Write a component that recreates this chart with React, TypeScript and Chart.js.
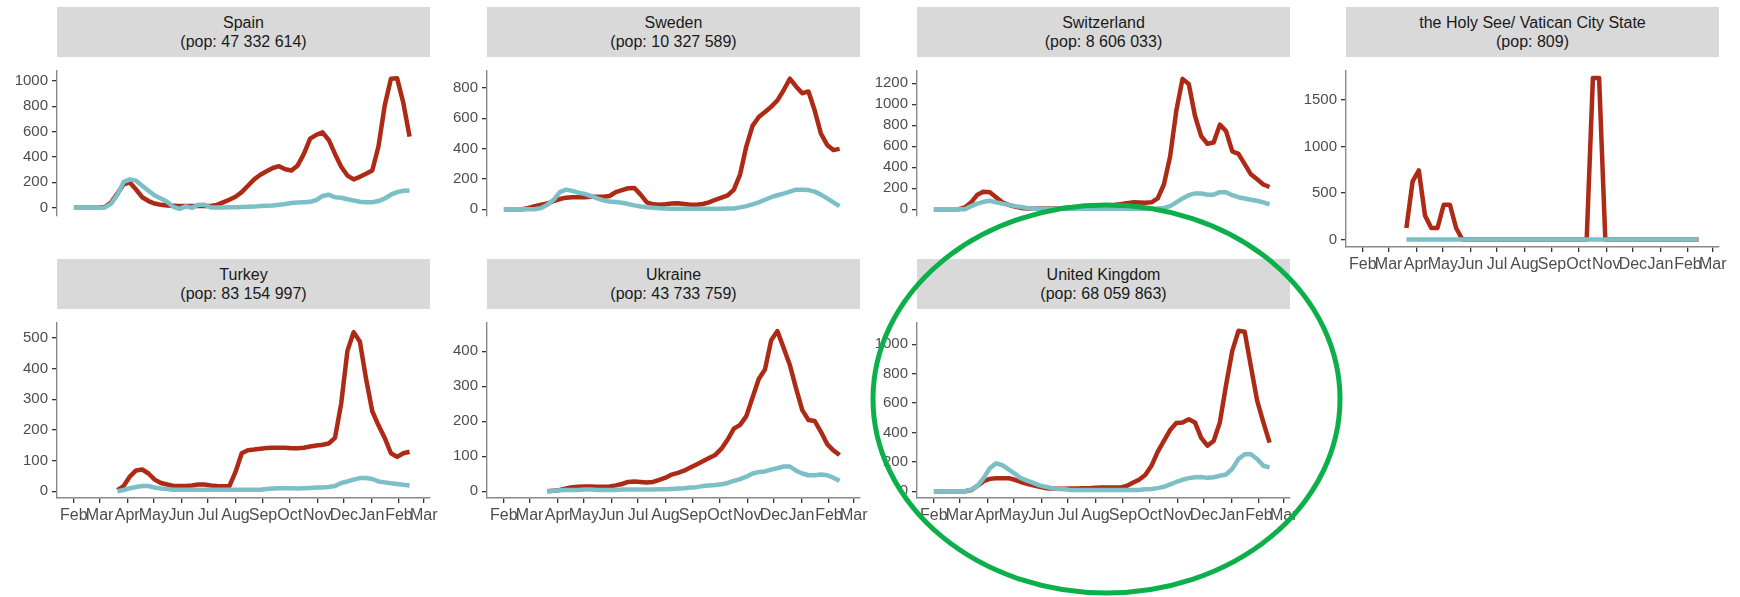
import React, { useEffect, useRef } from 'react';
import { Chart, registerables } from 'chart.js';

Chart.register(...registerables);

// ---------- data ----------
// x positions: days since 2020-01-01 (weekly observations)
const WEEK_DAYS = [31, 38, 45, 52, 59, 66, 73, 80, 87, 94, 101, 108, 115, 122, 129, 136, 143, 150, 157, 164, 171, 178, 185, 192, 199, 206, 213, 220, 227, 234, 241, 248, 255, 262, 269, 276, 283, 290, 297, 304, 311, 318, 325, 332, 339, 346, 353, 360, 367, 374, 381, 388, 395, 402, 409];

const MONTH_TICKS = [31, 60, 91, 121, 152, 182, 213, 244, 274, 305, 335, 366, 397, 425];
const MONTH_LABELS = ['Feb', 'Mar', 'Apr', 'May', 'Jun', 'Jul', 'Aug', 'Sep', 'Oct', 'Nov', 'Dec', 'Jan', 'Feb', 'Mar'];

const SPAIN_RED = [0, 0, 0, 0, 0, 5, 42, 112, 183, 199, 143, 82, 52, 32, 22, 16, 14, 13, 12, 12, 12, 12, 13, 22, 42, 62, 86, 122, 173, 223, 259, 287, 313, 327, 303, 293, 333, 424, 544, 574, 594, 534, 424, 323, 253, 223, 243, 267, 293, 484, 805, 1016, 1020, 825, 560];
const SPAIN_TEAL = [0, 0, 0, 0, 0, 2, 32, 102, 203, 223, 213, 173, 133, 96, 72, 46, 6, -10, 10, -2, 22, 22, 2, 2, 2, 3, 4, 5, 6, 8, 12, 14, 17, 22, 28, 36, 40, 43, 46, 60, 92, 102, 82, 78, 66, 56, 46, 42, 42, 52, 72, 102, 122, 133, 135];

const SWEDEN_RED = [0, 0, 0, 0, 8, 20, 29, 37, 54, 67, 76, 79, 79, 79, 82, 82, 82, 87, 113, 126, 138, 140, 96, 45, 32, 29, 32, 37, 39, 34, 29, 29, 34, 45, 62, 76, 91, 129, 230, 415, 550, 608, 642, 676, 718, 785, 861, 810, 765, 777, 651, 499, 424, 390, 398];
const SWEDEN_TEAL = [0, 0, 0, 0, 0, 0, 8, 29, 62, 113, 129, 121, 109, 101, 87, 71, 59, 50, 47, 42, 34, 25, 18, 13, 10, 6, 4, 3, 3, 3, 3, 3, 3, 3, 3, 3, 4, 5, 12, 20, 32, 45, 62, 79, 92, 103, 116, 129, 129, 126, 116, 96, 71, 45, 20];

const SWISS_RED = [0, 0, 0, 0, 0, 17, 65, 138, 167, 162, 114, 65, 41, 24, 12, 7, 5, 7, 7, 7, 7, 12, 17, 19, 22, 24, 27, 29, 36, 41, 48, 56, 65, 63, 61, 65, 102, 235, 502, 938, 1241, 1193, 890, 696, 623, 635, 805, 744, 550, 526, 429, 332, 284, 235, 211];
const SWISS_TEAL = [0, 0, 0, 0, 0, 0, 29, 53, 70, 80, 65, 53, 41, 29, 22, 12, 5, 5, 5, 5, 5, 5, 5, 5, 5, 5, 5, 5, 5, 5, 5, 5, 5, 5, 5, 5, 7, 12, 29, 65, 102, 133, 150, 150, 138, 138, 162, 162, 133, 114, 102, 90, 80, 65, 46];

const HOLY_RED = [null, null, null, null, null, null, null, 124, 625, 742, 257, 124, 124, 374, 374, 124, 0, 0, 0, 0, 0, 0, 0, 0, 0, 0, 0, 0, 0, 0, 0, 0, 0, 0, 0, 0, 0, 1734, 1734, 0, 0, 0, 0, 0, 0, 0, 0, 0, 0, 0, 0, 0, 0, 0, 0];
const HOLY_TEAL = [null, null, null, null, null, null, null, 0, 0, 0, 0, 0, 0, 0, 0, 0, 0, 0, 0, 0, 0, 0, 0, 0, 0, 0, 0, 0, 0, 0, 0, 0, 0, 0, 0, 0, 0, 0, 0, 0, 0, 0, 0, 0, 0, 0, 0, 0, 0, 0, 0, 0, 0, 0, 0];

const TURKEY_RED = [null, null, null, null, null, null, null, 4, 17, 48, 68, 71, 58, 38, 27, 22, 17, 17, 17, 19, 22, 22, 19, 17, 16, 16, 63, 124, 134, 136, 139, 141, 142, 142, 142, 140, 140, 142, 146, 149, 152, 156, 174, 286, 458, 519, 489, 367, 261, 215, 174, 124, 112, 124, 129];
const TURKEY_TEAL = [null, null, null, null, null, null, null, 0, 4, 10, 14, 17, 17, 12, 9, 7, 5, 5, 5, 5, 5, 5, 5, 5, 5, 5, 5, 5, 5, 5, 5, 7, 9, 10, 10, 10, 9, 10, 11, 12, 12, 14, 17, 27, 32, 38, 43, 43, 40, 32, 29, 26, 24, 21, 19];

const UKRAINE_RED = [null, null, null, null, null, null, null, 0, 2, 4, 8, 12, 13, 14, 14, 13, 13, 14, 17, 21, 27, 28, 27, 25, 27, 33, 39, 48, 53, 59, 68, 77, 86, 95, 104, 122, 148, 179, 190, 215, 268, 321, 348, 432, 458, 410, 361, 294, 232, 204, 201, 170, 135, 117, 104];
const UKRAINE_TEAL = [null, null, null, null, null, null, null, 0, 2, 3, 4, 4, 4, 5, 5, 4, 4, 4, 4, 5, 5, 5, 5, 5, 5, 6, 6, 7, 8, 9, 11, 12, 15, 17, 18, 20, 24, 30, 35, 42, 51, 55, 57, 62, 66, 71, 71, 59, 51, 46, 46, 48, 46, 39, 30];

const UK_RED = [0, 0, 0, 0, 0, 0, 8, 36, 68, 84, 89, 89, 89, 78, 63, 51, 40, 30, 21, 19, 17, 17, 19, 19, 21, 21, 23, 25, 25, 25, 25, 36, 57, 78, 110, 173, 268, 342, 416, 464, 468, 490, 468, 363, 310, 342, 468, 722, 954, 1091, 1084, 848, 616, 468, 331];
const UK_TEAL = [0, 0, 0, 0, 0, 0, 11, 36, 89, 156, 190, 177, 148, 120, 89, 72, 57, 40, 30, 21, 15, 13, 8, 8, 8, 8, 8, 8, 8, 8, 8, 8, 8, 8, 13, 15, 21, 30, 46, 63, 78, 89, 95, 97, 91, 95, 105, 114, 152, 219, 251, 251, 219, 173, 162];

const TITLES = ['Spain', 'Sweden', 'Switzerland', 'the Holy See/ Vatican City State', 'Turkey', 'Ukraine', 'United Kingdom'];
const POPS = ['47 332 614', '10 327 589', '8 606 033', '809', '83 154 997', '43 733 759', '68 059 863'];
const Y_TICKS_SPAIN = [0, 200, 400, 600, 800, 1000];
const Y_TICKS_SWEDEN = [0, 200, 400, 600, 800];
const Y_TICKS_SWISS = [0, 200, 400, 600, 800, 1000, 1200];
const Y_TICKS_HOLY = [0, 500, 1000, 1500];
const Y_TICKS_TURKEY = [0, 100, 200, 300, 400, 500];
const Y_TICKS_UKRAINE = [0, 100, 200, 300, 400];
const Y_TICKS_UK = [0, 200, 400, 600, 800, 1000];

// ---------- styling / layout ----------
const FONT = "'Liberation Sans', Arial, sans-serif";
const RED = '#ad2a17';
const TEAL = '#7dbfc6';
const Y_AXIS_W = 56;
const PLOT_W = 373;
const X_MIN = 12;
const X_MAX = 432;

type PanelSpec = {
  title: string; pop: string; red: (number | null)[]; teal: (number | null)[];
  left: number; headerTop: number; plotTop: number; plotH: number;
  yMin: number; yMax: number; yTicks: number[]; xAxis: boolean;
};

const PANELS: PanelSpec[] = [
  { title: TITLES[0], pop: POPS[0], red: SPAIN_RED, teal: SPAIN_TEAL, left: 57, headerTop: 7, plotTop: 58, plotH: 190, yMin: -66, yMax: 1078, yTicks: Y_TICKS_SPAIN, xAxis: false },
  { title: TITLES[1], pop: POPS[1], red: SWEDEN_RED, teal: SWEDEN_TEAL, left: 487, headerTop: 7, plotTop: 58, plotH: 190, yMin: -45, yMax: 912, yTicks: Y_TICKS_SWEDEN, xAxis: false },
  { title: TITLES[2], pop: POPS[2], red: SWISS_RED, teal: SWISS_TEAL, left: 917, headerTop: 7, plotTop: 58, plotH: 190, yMin: -65, yMax: 1316, yTicks: Y_TICKS_SWISS, xAxis: false },
  { title: TITLES[3], pop: POPS[3], red: HOLY_RED, teal: HOLY_TEAL, left: 1346, headerTop: 7, plotTop: 58, plotH: 189, yMin: -80, yMax: 1810, yTicks: Y_TICKS_HOLY, xAxis: true },
  { title: TITLES[4], pop: POPS[4], red: TURKEY_RED, teal: TURKEY_TEAL, left: 57, headerTop: 259, plotTop: 310, plotH: 188, yMin: -22, yMax: 549, yTicks: Y_TICKS_TURKEY, xAxis: true },
  { title: TITLES[5], pop: POPS[5], red: UKRAINE_RED, teal: UKRAINE_TEAL, left: 487, headerTop: 259, plotTop: 310, plotH: 188, yMin: -19, yMax: 481, yTicks: Y_TICKS_UKRAINE, xAxis: true },
  { title: TITLES[6], pop: POPS[6], red: UK_RED, teal: UK_TEAL, left: 917, headerTop: 259, plotTop: 310, plotH: 188, yMin: -46, yMax: 1144, yTicks: Y_TICKS_UK, xAxis: true },
];

function Panel({ p }: { p: PanelSpec }) {
  const ref = useRef<HTMLCanvasElement | null>(null);
  const X_AXIS_H = 32;
  const PAD_R = 24;
  const cw = Y_AXIS_W + PLOT_W + PAD_R;
  const ch = p.plotH + (p.xAxis ? X_AXIS_H : 0);

  useEffect(() => {
    if (!ref.current) return;
    const toPts = (arr: (number | null)[]) => WEEK_DAYS.map((d, i) => ({ x: d, y: arr[i] }));
    const chart = new Chart(ref.current, {
      type: 'line',
      data: {
        datasets: [
          { data: toPts(p.teal) as any, borderColor: TEAL, borderWidth: 4.5, pointRadius: 0, tension: 0, order: 0, borderJoinStyle: 'round', spanGaps: false },
          { data: toPts(p.red) as any, borderColor: RED, borderWidth: 4.5, pointRadius: 0, tension: 0, order: 1, borderJoinStyle: 'round', spanGaps: false },
        ],
      },
      options: {
        animation: false,
        responsive: false,
        devicePixelRatio: 1,
        layout: { padding: { left: 0, top: 0, bottom: 0, right: PAD_R } },
        plugins: { legend: { display: false }, tooltip: { enabled: false } },
        scales: {
          x: {
            type: 'linear',
            min: X_MIN,
            max: X_MAX,
            display: p.xAxis,
            border: { display: true, color: '#8a8a8a', width: 1.4 },
            grid: { display: true, drawOnChartArea: false, drawTicks: true, tickLength: 5, color: '#333333', lineWidth: 1.3 },
            afterBuildTicks: (scale: any) => { scale.ticks = MONTH_TICKS.map((v) => ({ value: v })); },
            afterFit: (scale: any) => { scale.height = X_AXIS_H; },
            ticks: {
              autoSkip: false, maxRotation: 0, minRotation: 0, padding: 3,
              color: '#4d4d4d', font: { family: FONT, size: 16 },
              callback: (_v: any, i: number) => MONTH_LABELS[i],
            },
          },
          y: {
            type: 'linear',
            min: p.yMin,
            max: p.yMax,
            border: { display: true, color: '#8a8a8a', width: 1.4 },
            grid: { display: true, drawOnChartArea: false, drawTicks: true, tickLength: 5, color: '#333333', lineWidth: 1.3 },
            afterBuildTicks: (scale: any) => { scale.ticks = p.yTicks.map((v) => ({ value: v })); },
            afterFit: (scale: any) => { scale.width = Y_AXIS_W; },
            ticks: { color: '#4d4d4d', font: { family: FONT, size: 15 }, padding: 4, callback: (v: any) => String(v) },
          },
        },
      } as any,
    });
    return () => chart.destroy();
  }, []);

  return (
    <>
      <div style={{
        position: 'absolute', left: p.left, top: p.headerTop, width: PLOT_W, height: 50,
        background: '#d9d9d9', color: '#1a1a1a', fontFamily: FONT, fontSize: 16, lineHeight: '19px',
        display: 'flex', flexDirection: 'column', justifyContent: 'center', alignItems: 'center', textAlign: 'center',
      }}>
        <div>{p.title}</div>
        <div>(pop: {p.pop})</div>
      </div>
      <canvas ref={ref} width={cw} height={ch}
        style={{ position: 'absolute', left: p.left - Y_AXIS_W, top: p.plotTop, width: cw, height: ch }} />
    </>
  );
}

export default function App() {
  return (
    <div style={{ position: 'absolute', left: 0, top: 0, width: 1740, height: 597, background: '#ffffff', overflow: 'hidden' }}>
      {PANELS.map((p) => <Panel key={p.title} p={p} />)}
      <svg width={1740} height={597} style={{ position: 'absolute', left: 0, top: 0, pointerEvents: 'none' }}>
        <ellipse cx={1106.5} cy={399} rx={233.5} ry={194} fill="none" stroke="#0bb04b" strokeWidth={5} />
      </svg>
    </div>
  );
}
